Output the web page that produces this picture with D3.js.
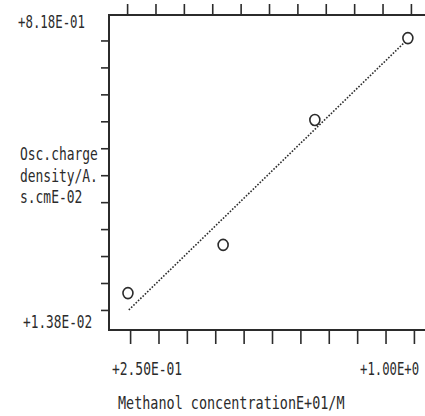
<!DOCTYPE html>
<html>
<head>
<meta charset="utf-8">
<script src="https://cdn.jsdelivr.net/npm/d3@7"></script>
<style>
  html, body { margin: 0; padding: 0; background: #fff; }
  text { font-family: "DejaVu Sans Mono", "Liberation Mono", monospace; fill: #2b2b2b; }
</style>
</head>
<body>
<svg id="chart" width="425" height="416"></svg>
<script>
// methanol concentration (E+01 M) vs osc. charge density (A.s.cm E-02)
const concentration = [0.294, 0.515, 0.728, 0.944];
const chargeDensity = [0.108, 0.231, 0.550, 0.759];

// fitted line at its two ends
const fitX = [0.296, 0.937];
const fitY = [0.065, 0.749];

const xDomain = [0.25, 1.00];
const yDomain = [0.0138, 0.818];
const xTickLabels = ["+2.50E-01", "+1.00E+0"];
const yTickLabels = ["+8.18E-01", "+1.38E-02"];
const yLabelLines = ["Osc.charge", "density/A.", "s.cmE-02"];
const xTitle = "Methanol concentrationE+01/M";

const xTickStart = 0.299, xTickStep = 0.0659, xTickCount = 11;
const yTickStart = 0.065, yTickStep = 0.0688, yTickCount = 11;

const box = { left: 109, right: 432, top: 15, bottom: 330 };
const ink = "#2b2b2b";

const svg = d3.select("#chart");

const x = d3.scaleLinear().domain(xDomain).range([box.left, box.right]);
const y = d3.scaleLinear().domain(yDomain).range([box.bottom, box.top]);

const xTicks = d3.range(xTickCount).map(i => xTickStart + i * xTickStep);
const yTicks = d3.range(yTickCount).map(i => yTickStart + i * yTickStep);

// frame
svg.append("rect")
  .attr("x", box.left).attr("y", box.top)
  .attr("width", box.right - box.left).attr("height", box.bottom - box.top)
  .attr("fill", "none").attr("stroke", ink).attr("stroke-width", 2);

function styleAxis(g) {
  g.select(".domain").remove();
  g.selectAll(".tick line").attr("stroke", ink).attr("stroke-width", 1.6);
  g.selectAll(".tick text").remove();
}

svg.append("g")
  .attr("transform", `translate(${box.left},0)`)
  .call(d3.axisLeft(y).tickValues(yTicks).tickSize(8).tickFormat(""))
  .call(styleAxis);

svg.append("g")
  .attr("transform", `translate(0,${box.bottom})`)
  .call(d3.axisBottom(x).tickValues(xTicks).tickSize(14).tickFormat(""))
  .call(styleAxis);

svg.append("g")
  .attr("transform", `translate(-3,${box.top})`)
  .call(d3.axisTop(x).tickValues(xTicks).tickSize(11).tickFormat(""))
  .call(styleAxis);

// condensed dot-matrix style text: squeeze horizontally to the plotter's pitch
function label(str, px, py, charW) {
  const t = svg.append("text")
    .attr("font-size", 18.5)
    .text(str);
  const natural = t.node().getComputedTextLength();
  const sx = (str.length * charW) / natural;
  t.attr("transform", `translate(${px},${py}) scale(${sx},1)`);
}

label(yTickLabels[0], 18, 28, 7.45);
label(yTickLabels[1], 23, 328, 7.7);
label(xTickLabels[0], 112, 375, 7.8);
label(xTickLabels[1], 360, 375, 7.4);
yLabelLines.forEach((s, i) => label(s, 20, 160 + i * 21.5, 7.8));
label(xTitle, 118, 409, 8.1);

// fit line (dotted)
svg.append("line")
  .attr("x1", x(fitX[0])).attr("y1", y(fitY[0]))
  .attr("x2", x(fitX[1])).attr("y2", y(fitY[1]))
  .attr("stroke", ink).attr("stroke-width", 1.6)
  .attr("stroke-dasharray", "1.6,1.6");

// data markers
svg.selectAll(".pt")
  .data(concentration)
  .enter()
  .append("ellipse")
    .attr("class", "pt")
    .attr("cx", d => x(d))
    .attr("cy", (d, i) => y(chargeDensity[i]))
    .attr("rx", 5).attr("ry", 5.5)
    .attr("fill", "none")
    .attr("stroke", ink).attr("stroke-width", 1.6);
</script>
</body>
</html>
